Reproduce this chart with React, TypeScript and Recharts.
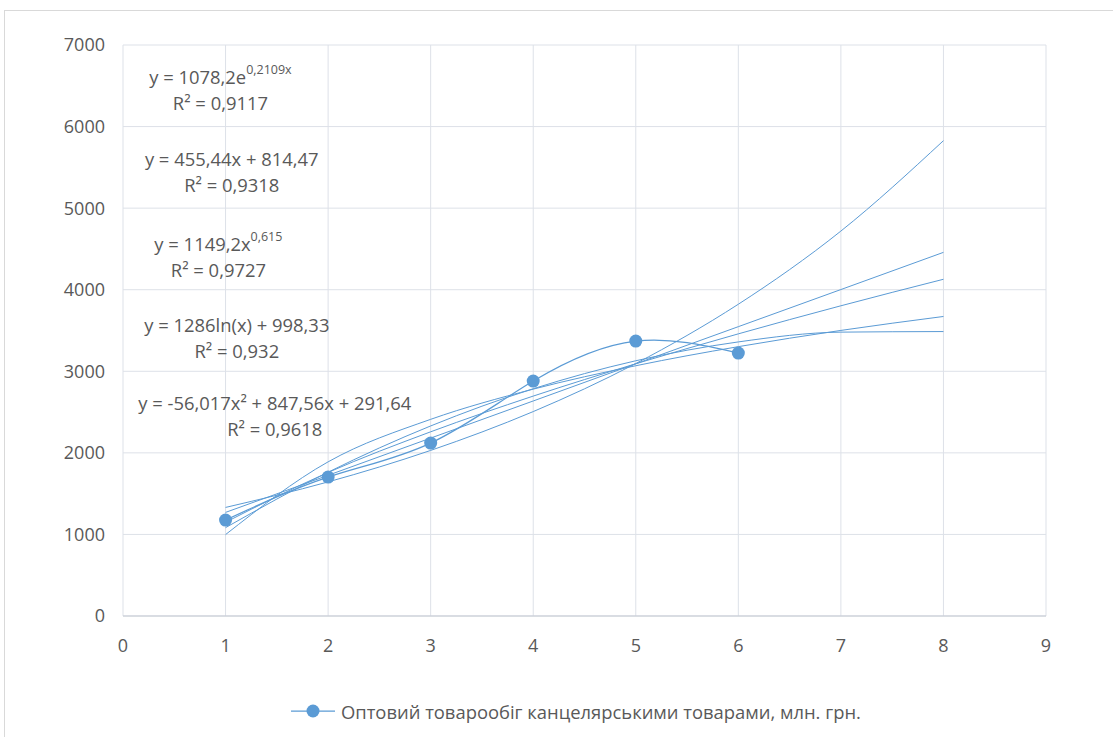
import React from "react";
import {
  ComposedChart,
  Line,
  XAxis,
  YAxis,
  CartesianGrid,
  ReferenceDot,
} from "recharts";

// values
const xValues = [1, 2, 3, 4, 5, 6, 7, 8];
const salesValues = [1176, 1703, 2120, 2880, 3370, 3223];
const expTrend = [1331, 1644, 2030, 2506, 3095, 3822, 4719, 5827];
const linTrend = [1270, 1725, 2181, 2636, 3092, 3547, 4002, 4458];
const powTrend = [1149, 1760, 2258, 2696, 3092, 3459, 3803, 4128];
const logTrend = [998, 1890, 2411, 2781, 3068, 3302, 3501, 3672];
const polyTrend = [1083, 1763, 2330, 2786, 3129, 3360, 3480, 3487];

const xTicks = [0, 1, 2, 3, 4, 5, 6, 7, 8, 9];
const yTicks = [0, 1000, 2000, 3000, 4000, 5000, 6000, 7000];

const seriesName = "Оптовий товарообіг канцелярськими товарами, млн. грн.";

const trendLabels = [
  { x: 0.95, y: 6460, main: "y = 1078,2e", sup: "0,2109x", r2: "R² = 0,9117" },
  { x: 1.06, y: 5450, main: "y = 455,44x + 814,47", sup: "", r2: "R² = 0,9318" },
  { x: 0.93, y: 4413, main: "y = 1149,2x", sup: "0,615", r2: "R² = 0,9727" },
  { x: 1.11, y: 3420, main: "y = 1286ln(x) + 998,33", sup: "", r2: "R² = 0,932" },
  { x: 1.48, y: 2458, main: "y = -56,017x² + 847,56x + 291,64", sup: "", r2: "R² = 0,9618" },
];

const rows = xValues.map((x, i) => ({
  x,
  sales: i < salesValues.length ? salesValues[i] : undefined,
  exp: expTrend[i],
  lin: linTrend[i],
  pow: powTrend[i],
  log: logTrend[i],
  poly: polyTrend[i],
}));

const BLUE = "#5b9bd5";
const TEXT = "#595959";
const FONT = "'Open Sans', 'Noto Sans', sans-serif";

function TrendLabel(props: any) {
  const { cx, cy, item } = props;
  if (cx == null || cy == null) return null;
  return (
    <g fontFamily={FONT} fontSize={18.4} fill={TEXT}>
      <text x={cx} y={cy - 13} textAnchor="middle" dominantBaseline="central">
        {item.main}
        {item.sup && (
          <tspan dy={-7} fontSize={12.5}>
            {item.sup}
          </tspan>
        )}
      </text>
      <text x={cx} y={cy + 13} textAnchor="middle" dominantBaseline="central">
        {item.r2}
      </text>
    </g>
  );
}

export default function App() {
  const trendKeys = ["exp", "lin", "pow", "log", "poly"];
  return (
    <div
      style={{
        position: "absolute",
        left: 0,
        top: 0,
        width: 1113,
        height: 737,
        background: "#fff",
        overflow: "hidden",
        fontFamily: FONT,
      }}
    >
      <div
        style={{
          position: "absolute",
          left: 4,
          top: 10,
          width: 1200,
          height: 800,
          border: "1px solid #d9d9d9",
        }}
      />
      <div style={{ position: "absolute", left: 0, top: 0 }}>
        <ComposedChart
          width={1113}
          height={737}
          data={rows}
          margin={{ top: 45, right: 67, bottom: 91, left: 63 }}
        >
          <CartesianGrid stroke="#dde1e8" strokeWidth={1} />
          <XAxis
            dataKey="x"
            type="number"
            domain={[0, 9]}
            ticks={xTicks}
            height={30}
            tickSize={0}
            tickMargin={23}
            axisLine={{ stroke: "#c4c9d2" }}
            tickLine={false}
            tick={{ fill: TEXT, fontSize: 18, fontFamily: FONT }}
            interval={0}
          />
          <YAxis
            type="number"
            domain={[0, 7000]}
            ticks={yTicks}
            width={60}
            tickSize={0}
            tickMargin={18}
            axisLine={false}
            tickLine={false}
            tick={{ fill: TEXT, fontSize: 18, fontFamily: FONT }}
            interval={0}
          />
          {trendKeys.map((k) => (
            <Line
              key={k}
              dataKey={k}
              type="monotone"
              stroke={BLUE}
              strokeWidth={1}
              dot={false}
              activeDot={false}
              isAnimationActive={false}
            />
          ))}
          <Line
            dataKey="sales"
            name={seriesName}
            type="natural"
            stroke={BLUE}
            strokeWidth={1.25}
            dot={{ r: 6.5, fill: BLUE, stroke: BLUE, strokeWidth: 0 }}
            activeDot={false}
            isAnimationActive={false}
          />
          {trendLabels.map((t, i) => (
            <ReferenceDot
              key={i}
              x={t.x}
              y={t.y}
              r={0}
              ifOverflow="visible"
              shape={(p: any) => <TrendLabel {...p} item={t} />}
            />
          ))}
        </ComposedChart>
      </div>
      <div
        style={{
          position: "absolute",
          left: 291,
          top: 698,
          height: 26,
          display: "flex",
          alignItems: "center",
          whiteSpace: "nowrap",
        }}
      >
        <svg width={46} height={16} style={{ marginRight: 4 }}>
          <line x1={0} y1={8} x2={44} y2={8} stroke={BLUE} strokeWidth={1.25} />
          <circle cx={22} cy={8} r={6.5} fill={BLUE} />
        </svg>
        <span style={{ fontSize: 18.4, color: TEXT }}>{seriesName}</span>
      </div>
    </div>
  );
}
